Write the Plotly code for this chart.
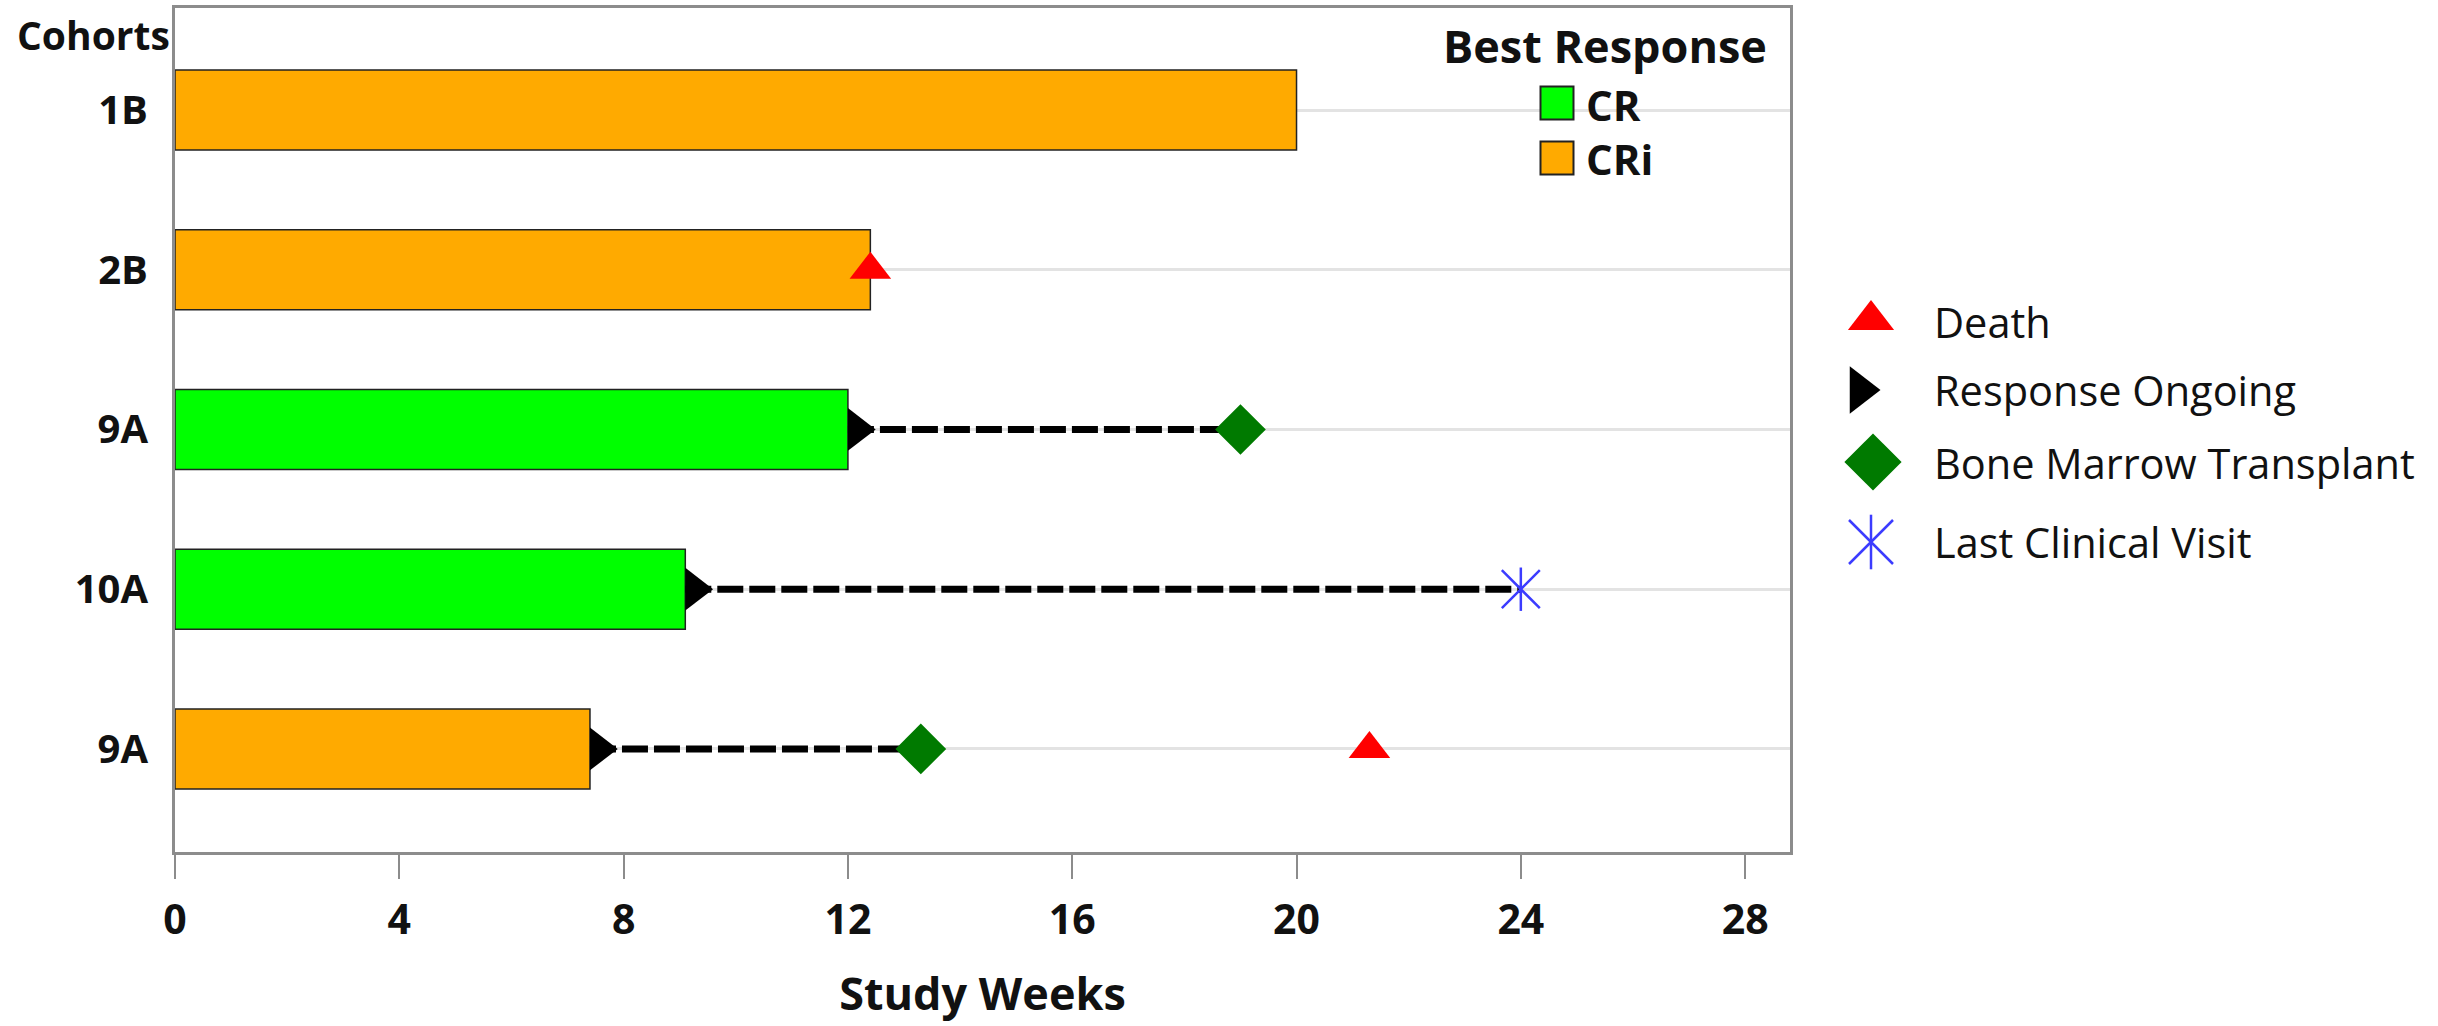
import plotly.graph_objects as go

W, H = 2438, 1026

# Patient rows, listed top to bottom
cohorts = ["1B", "2B", "9A", "10A", "9A"]
best_response = ["CRi", "CRi", "CR", "CR", "CRi"]
treatment_weeks = [20.0, 12.4, 12.0, 9.1, 7.4]
response_ongoing = [False, False, True, True, True]
death_week = [None, 12.4, None, None, 21.3]
bmt_week = [None, None, 19.0, None, 13.3]
last_visit_week = [None, None, None, 24.0, None]

x_ticks = [0, 4, 8, 12, 16, 20, 24, 28]
response_levels = ["CR", "CRi"]
event_labels = ["Death", "Response Ongoing", "Bone Marrow Transplant", "Last Clinical Visit"]

# ---- styling / layout constants ----
FONT = "Open Sans"
TEXT = "#111111"
FRAME = "#8c8c8c"
response_colors = {"CR": "#00FF00", "CRi": "#FFAA00"}
DEATH_C = "#FF0000"
BMT_C = "#007A00"
VISIT_C = "#3C3CFF"

PLOT_L, PLOT_R, PLOT_T, PLOT_B = 175, 1790, 8, 852
X_MAX = 28.8
px_per_week = (PLOT_R - PLOT_L) / X_MAX
ARROW_SIZE = 37
# triangle-right spans -size/4 .. +size/2 around its centre; put its base on the bar end
arrow_shift = (ARROW_SIZE / 4) / px_per_week

rows = list(range(len(cohorts)))
n = len(rows)
pad_rows = 0.6385
y_range = [n - 1 + pad_rows + 0.0065, -pad_rows]

fig = go.Figure()

# treatment duration bars, coloured by best response
for lvl in response_levels:
    idx = [i for i in rows if best_response[i] == lvl]
    fig.add_trace(go.Bar(
        orientation="h",
        x=[treatment_weeks[i] for i in idx],
        y=[rows[i] for i in idx],
        width=0.5,
        marker=dict(color=response_colors[lvl], line=dict(color="#222222", width=1.5)),
        name=lvl, showlegend=False, hoverinfo="skip",
    ))

# dashed follow-up line while the response is ongoing
for i in rows:
    if not response_ongoing[i]:
        continue
    end = bmt_week[i] if bmt_week[i] is not None else last_visit_week[i]
    fig.add_trace(go.Scatter(
        x=[treatment_weeks[i], end], y=[rows[i], rows[i]], mode="lines",
        line=dict(color="black", width=7, dash="26px,6px"),
        showlegend=False, hoverinfo="skip",
    ))

# response-ongoing arrows at the end of the bar
ong = [i for i in rows if response_ongoing[i]]
fig.add_trace(go.Scatter(
    x=[treatment_weeks[i] + arrow_shift for i in ong], y=[rows[i] for i in ong],
    mode="markers", marker=dict(symbol="triangle-right", size=ARROW_SIZE, color="black"),
    showlegend=False, hoverinfo="skip",
))

# bone marrow transplant
bi = [i for i in rows if bmt_week[i] is not None]
fig.add_trace(go.Scatter(
    x=[bmt_week[i] for i in bi], y=[rows[i] for i in bi], mode="markers",
    marker=dict(symbol="diamond", size=39, color=BMT_C),
    showlegend=False, hoverinfo="skip",
))

# death
di = [i for i in rows if death_week[i] is not None]
fig.add_trace(go.Scatter(
    x=[death_week[i] for i in di], y=[rows[i] for i in di], mode="markers",
    marker=dict(symbol="triangle-up", size=36, color=DEATH_C),
    showlegend=False, hoverinfo="skip",
))

# last clinical visit: six-armed star built from a vertical bar and an X
vi = [i for i in rows if last_visit_week[i] is not None]
for sym, sz in (("line-ns-open", 31), ("x-thin-open", 38)):
    fig.add_trace(go.Scatter(
        x=[last_visit_week[i] for i in vi], y=[rows[i] for i in vi], mode="markers",
        marker=dict(symbol=sym, size=sz, color=VISIT_C, line=dict(color=VISIT_C, width=2.5)),
        showlegend=False, hoverinfo="skip",
    ))

# ---- legend swatches, drawn on a full-figure pixel overlay ----
def key(x, y, **marker):
    fig.add_trace(go.Scatter(
        x=[x], y=[y], xaxis="x2", yaxis="y2", mode="markers",
        marker=marker, showlegend=False, hoverinfo="skip",
    ))

resp_key_y = (103, 158)
for lvl, ky in zip(response_levels, resp_key_y):
    key(1557, ky, symbol="square", size=33, color=response_colors[lvl],
        line=dict(color="#222222", width=2))

key(1871, 320, symbol="triangle-up", size=40, color=DEATH_C)
key(1860, 390, symbol="triangle-right", size=41, color="black")
key(1873, 462, symbol="diamond", size=44, color=BMT_C)
key(1871, 542, symbol="line-ns-open", size=39, color=VISIT_C, line=dict(color=VISIT_C, width=2.5))
key(1871, 542, symbol="x-thin-open", size=44, color=VISIT_C, line=dict(color=VISIT_C, width=2.5))

def px_annot(text, x, y, size, bold=False, xanchor="left"):
    return dict(
        text=f"<b>{text}</b>" if bold else text,
        x=x / W, y=1 - y / H, xref="paper", yref="paper",
        xanchor=xanchor, yanchor="middle", showarrow=False,
        font=dict(family=FONT, size=size, color=TEXT),
    )

annotations = [
    px_annot("Cohorts", 93, 35, 39, bold=True, xanchor="center"),
    px_annot("Best Response", 1605, 45, 45, bold=True, xanchor="center"),
]
for lvl, ky in zip(response_levels, resp_key_y):
    annotations.append(px_annot(lvl, 1584, ky + 1, 42, bold=True))
for lab, ky in zip(event_labels, (322, 390, 463, 542)):
    annotations.append(px_annot(lab, 1932, ky, 41.5))

fig.update_layout(
    width=W, height=H,
    margin=dict(l=0, r=0, t=0, b=0),
    paper_bgcolor="white", plot_bgcolor="rgba(0,0,0,0)",
    barmode="overlay", showlegend=False,
    font=dict(family=FONT, color=TEXT),
    annotations=annotations,
    xaxis=dict(
        domain=[PLOT_L / W, PLOT_R / W], range=[0, X_MAX], automargin=False,
        tickvals=x_ticks, ticktext=[str(t) for t in x_ticks],
        ticks="outside", ticklen=24, tickwidth=2, tickcolor=FRAME,
        showline=True, mirror=True, linecolor=FRAME, linewidth=3,
        showgrid=False, zeroline=False, ticklabelstandoff=6,
        tickfont=dict(family=FONT, size=41, color=TEXT, weight="bold"),
        title=dict(text="<b>Study Weeks</b>", standoff=34,
                   font=dict(family=FONT, size=45, color=TEXT)),
    ),
    yaxis=dict(
        domain=[1 - PLOT_B / H, 1 - PLOT_T / H], range=y_range, automargin=False,
        tickvals=rows, ticktext=cohorts, ticks="",
        showline=True, mirror=True, linecolor=FRAME, linewidth=3,
        showgrid=True, gridcolor="#e3e3e3", gridwidth=3, zeroline=False,
        ticklabelstandoff=16,
        tickfont=dict(family=FONT, size=40, color=TEXT, weight="bold"),
    ),
    xaxis2=dict(domain=[0, 1], range=[0, W], visible=False, anchor="y2", fixedrange=True),
    yaxis2=dict(domain=[0, 1], range=[H, 0], visible=False, anchor="x2", fixedrange=True),
)

fig.write_html("out.html")
